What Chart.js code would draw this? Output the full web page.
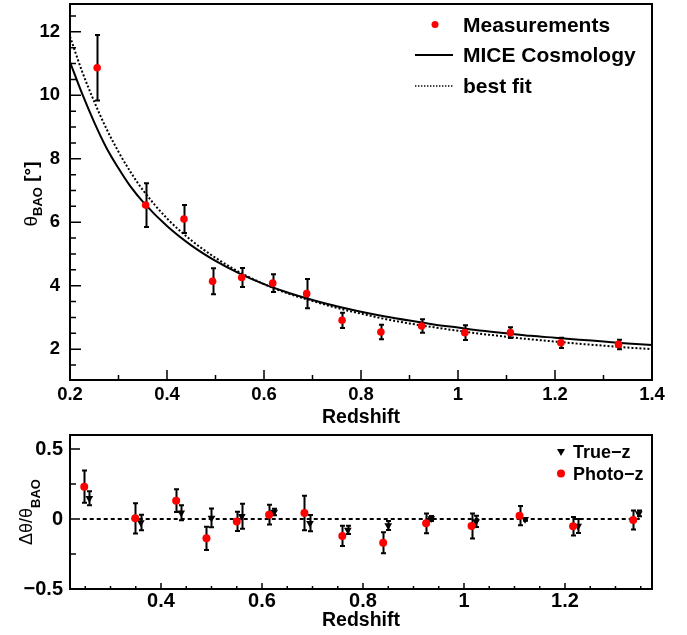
<!DOCTYPE html>
<html>
<head>
<meta charset="utf-8">
<script src="https://cdn.jsdelivr.net/npm/chart.js@4.4.0/dist/chart.umd.min.js"></script>
<style>
  html, body { margin: 0; padding: 0; background: #fff; }
  #wrap { position: relative; width: 687px; height: 635px; }
  #topChart { position: absolute; left: 0; top: 0; }
  #bottomChart { position: absolute; left: 0; top: 430px; }
</style>
</head>
<body>
<div id="wrap">
  <canvas id="topChart" width="687" height="430"></canvas>
  <canvas id="bottomChart" width="687" height="205"></canvas>
</div>
<script>
// measured BAO angle per redshift bin (top panel)
const measZ     = [0.256, 0.356, 0.435, 0.494, 0.554, 0.618, 0.688, 0.761, 0.841, 0.925, 1.014, 1.108, 1.212, 1.331];
const measTheta = [10.87, 6.54, 6.10, 4.14, 4.26, 4.08, 3.75, 2.91, 2.54, 2.73, 2.52, 2.52, 2.20, 2.15];
const measErr   = [1.03, 0.69, 0.44, 0.41, 0.30, 0.28, 0.46, 0.24, 0.23, 0.21, 0.23, 0.17, 0.16, 0.15];

// model curves
const curveZ    = [0.20, 0.225, 0.25, 0.275, 0.30, 0.325, 0.35, 0.40, 0.45, 0.50, 0.55, 0.60, 0.65, 0.70,
                   0.75, 0.80, 0.85, 0.90, 0.95, 1.00, 1.05, 1.10, 1.15, 1.20, 1.25, 1.30, 1.35, 1.40];
const miceTheta = [11.05, 10.05, 9.15, 8.35, 7.70, 7.12, 6.65, 5.88, 5.27, 4.78, 4.38, 4.05, 3.78, 3.55,
                   3.35, 3.18, 3.03, 2.90, 2.78, 2.68, 2.58, 2.50, 2.42, 2.36, 2.30, 2.24, 2.18, 2.13];
const fitTheta  = [11.85, 10.75, 9.80, 8.95, 8.22, 7.58, 7.02, 6.12, 5.43, 4.88, 4.42, 4.05, 3.75, 3.52,
                   3.30, 3.12, 2.95, 2.81, 2.69, 2.58, 2.48, 2.39, 2.31, 2.24, 2.17, 2.11, 2.05, 2.00];

// relative deviation (bottom panel)
const photoZ     = [0.248, 0.349, 0.430, 0.490, 0.550, 0.614, 0.684, 0.759, 0.840, 0.925, 1.015, 1.110, 1.216, 1.335];
const photoDelta = [0.231, 0.005, 0.131, -0.138, -0.017, 0.031, 0.043, -0.121, -0.169, -0.031, -0.050, 0.024, -0.052, -0.007];
const photoErr   = [0.115, 0.108, 0.081, 0.083, 0.069, 0.070, 0.123, 0.072, 0.075, 0.071, 0.090, 0.068, 0.066, 0.068];

const trueZ      = [0.258, 0.360, 0.440, 0.500, 0.560, 0.624, 0.695, 0.770, 0.850, 0.935, 1.024, 1.121, 1.226, 1.346];
const trueDelta  = [0.148, -0.025, 0.045, 0.008, 0.020, 0.050, -0.030, -0.078, -0.047, 0.003, -0.017, -0.002, -0.050, 0.040];
const trueErr    = [0.050, 0.055, 0.054, 0.067, 0.089, 0.024, 0.058, 0.030, 0.032, 0.018, 0.041, 0.010, 0.050, 0.020];

const zeroLineZ = [0.245, 1.352];
const zeroLineY = [0, 0];

const FONT = '"Liberation Sans", Arial, Helvetica, sans-serif';

function pts(xs, ys) {
    return xs.map((x, i) => ({ x: x, y: ys[i] }));
}

function fmtTick(v) {
    const s = String(parseFloat(Number(v).toFixed(2)));
    return s.replace('-', '\u2212');
}

// draws ROOT-like frame, inner ticks, error bars, axis titles and legend
function makeRootPlugin(cfg) {
    return {
        id: 'rootFrame',
        beforeDatasetsDraw(chart) {
            const ctx = chart.ctx;
            const xs = chart.scales.x, ys = chart.scales.y;
            ctx.save();
            ctx.strokeStyle = '#000';
            ctx.lineWidth = 2;
            cfg.errorBars.forEach(eb => {
                const ds = chart.data.datasets[eb.dataset];
                ds.data.forEach((p, j) => {
                    const e = eb.errors[j];
                    const px = Math.round(xs.getPixelForValue(p.x)) + 0.5;
                    const y1 = ys.getPixelForValue(p.y + e);
                    const y2 = ys.getPixelForValue(p.y - e);
                    ctx.beginPath();
                    ctx.moveTo(px, y1); ctx.lineTo(px, y2);
                    ctx.moveTo(px - eb.cap, y1); ctx.lineTo(px + eb.cap, y1);
                    ctx.moveTo(px - eb.cap, y2); ctx.lineTo(px + eb.cap, y2);
                    ctx.stroke();
                });
            });
            ctx.restore();
        },
        afterDraw(chart) {
            const ctx = chart.ctx;
            const a = chart.chartArea;
            const xs = chart.scales.x, ys = chart.scales.y;
            ctx.save();
            ctx.strokeStyle = '#000';
            ctx.lineWidth = 2;
            ctx.strokeRect(a.left, a.top, a.right - a.left, a.bottom - a.top);

            // ticks inside the frame
            ctx.lineWidth = 1.5;
            ctx.beginPath();
            for (let k = Math.ceil(xs.min / cfg.xMinor - 1e-6); k * cfg.xMinor <= xs.max + 1e-6; k++) {
                const v = k * cfg.xMinor;
                const major = Math.abs(v / cfg.xMajor - Math.round(v / cfg.xMajor)) < 1e-6;
                const px = xs.getPixelForValue(v);
                ctx.moveTo(px, a.bottom);
                ctx.lineTo(px, a.bottom - (major ? cfg.xMajorLen : cfg.xMinorLen));
            }
            for (let k = Math.ceil(ys.min / cfg.yMinor - 1e-6); k * cfg.yMinor <= ys.max + 1e-6; k++) {
                const v = k * cfg.yMinor;
                const major = Math.abs(v / cfg.yMajor - Math.round(v / cfg.yMajor)) < 1e-6;
                const py = ys.getPixelForValue(v);
                ctx.moveTo(a.left, py);
                ctx.lineTo(a.left + (major ? cfg.yMajorLen : cfg.yMinorLen), py);
            }
            ctx.stroke();

            // x title
            ctx.fillStyle = '#000';
            ctx.font = 'bold ' + cfg.xTitleSize + 'px ' + FONT;
            ctx.textAlign = 'center';
            ctx.textBaseline = 'alphabetic';
            ctx.fillText('Redshift', (a.left + a.right) / 2, cfg.xTitleBase);

            // y title with subscript
            ctx.save();
            ctx.translate(cfg.yTitle.base, cfg.yTitle.center);
            ctx.rotate(-Math.PI / 2);
            ctx.textAlign = 'left';
            let w = 0;
            cfg.yTitle.parts.forEach(p => { ctx.font = p.font; w += ctx.measureText(p.text).width; });
            let x = -w / 2;
            cfg.yTitle.parts.forEach(p => {
                ctx.font = p.font;
                ctx.fillText(p.text, x, p.dy);
                x += ctx.measureText(p.text).width;
            });
            ctx.restore();

            // legend
            const lg = cfg.legend;
            ctx.font = 'bold ' + lg.size + 'px ' + FONT;
            ctx.textAlign = 'left';
            ctx.textBaseline = 'middle';
            lg.items.forEach(it => {
                ctx.fillStyle = '#000';
                ctx.fillText(it.text, lg.textX, it.y);
                if (it.kind === 'circle') {
                    ctx.fillStyle = '#ff0000';
                    ctx.beginPath();
                    ctx.arc(lg.markX, it.y - 1.5, it.r, 0, Math.PI * 2);
                    ctx.fill();
                } else if (it.kind === 'triangle') {
                    ctx.fillStyle = '#000';
                    ctx.beginPath();
                    ctx.moveTo(lg.markX - it.r, it.y - 4);
                    ctx.lineTo(lg.markX + it.r, it.y - 4);
                    ctx.lineTo(lg.markX, it.y + 3);
                    ctx.closePath();
                    ctx.fill();
                } else {
                    ctx.strokeStyle = '#000';
                    ctx.lineWidth = it.kind === 'line' ? 2 : 1.4;
                    ctx.setLineDash(it.kind === 'line' ? [] : [1.4, 1.6]);
                    ctx.beginPath();
                    ctx.moveTo(lg.lineX0, it.y - 1);
                    ctx.lineTo(lg.lineX1, it.y - 1);
                    ctx.stroke();
                    ctx.setLineDash([]);
                }
            });
            ctx.restore();
        }
    };
}

function axisCommon(fontSize, pad) {
    return {
        type: 'linear',
        grid: { display: false, drawTicks: false },
        border: { display: false },
        ticks: {
            includeBounds: false,
            padding: pad,
            color: '#000',
            font: { family: FONT, size: fontSize, weight: 'bold' },
            callback: v => fmtTick(v)
        }
    };
}

function noEdgePadding(s) {
    s.paddingTop = 0;
    s.paddingBottom = 0;
    s.paddingLeft = 0;
    s.paddingRight = 0;
}

// ---------- top panel ----------
const topX = axisCommon(18.5, 4);
topX.min = 0.2; topX.max = 1.4; topX.ticks.stepSize = 0.2;
topX.afterFit = s => { s.height = 50; noEdgePadding(s); };
const topY = axisCommon(18.5, 10);
topY.min = 1.028; topY.max = 12.878; topY.ticks.stepSize = 2;
topY.afterFit = s => { s.width = 70; noEdgePadding(s); };

new Chart(document.getElementById('topChart'), {
    type: 'scatter',
    data: {
        datasets: [
            {
                label: 'Measurements',
                data: pts(measZ, measTheta),
                pointStyle: 'circle',
                pointRadius: 3.8,
                backgroundColor: '#ff0000',
                borderWidth: 0,
                order: 0
            },
            {
                label: 'MICE Cosmology',
                type: 'line',
                data: pts(curveZ, miceTheta),
                borderColor: '#000',
                borderWidth: 2,
                pointRadius: 0,
                fill: false,
                cubicInterpolationMode: 'monotone',
                order: 1
            },
            {
                label: 'best fit',
                type: 'line',
                data: pts(curveZ, fitTheta),
                borderColor: '#000',
                borderWidth: 2,
                borderDash: [2, 2],
                pointRadius: 0,
                fill: false,
                cubicInterpolationMode: 'monotone',
                order: 2
            }
        ]
    },
    options: {
        responsive: false,
        animation: false,
        layout: { padding: { left: 0, right: 35, top: 2, bottom: 0 } },
        scales: { x: topX, y: topY },
        plugins: { legend: { display: false }, tooltip: { enabled: false } }
    },
    plugins: [makeRootPlugin({
        errorBars: [{ dataset: 0, errors: measErr, cap: 2.5 }],
        xMajor: 0.2, xMinor: 0.1, xMajorLen: 10, xMinorLen: 5,
        yMajor: 2, yMinor: 0.5, yMajorLen: 11, yMinorLen: 6,
        xTitleSize: 19.5, xTitleBase: 423,
        yTitle: {
            base: 37, center: 194,
            parts: [
                { text: '\u03b8', font: '19px ' + FONT, dy: 0 },
                { text: 'BAO', font: 'bold 13px ' + FONT, dy: 5 },
                { text: ' [\u00b0]', font: 'bold 19px ' + FONT, dy: 0 }
            ]
        },
        legend: {
            size: 21, textX: 463, markX: 435, lineX0: 415, lineX1: 453,
            items: [
                { kind: 'circle', r: 3.5, y: 26, text: 'Measurements' },
                { kind: 'line', y: 56, text: 'MICE Cosmology' },
                { kind: 'dotted', y: 87, text: 'best fit' }
            ]
        }
    })]
});

// ---------- bottom panel ----------
const botX = axisCommon(20, 0);
botX.min = 0.2198; botX.max = 1.3723; botX.ticks.stepSize = 0.2;
botX.afterFit = s => { s.height = 46; noEdgePadding(s); };
const botY = axisCommon(20, 7);
botY.min = -0.5; botY.max = 0.6; botY.ticks.stepSize = 0.5;
botY.afterFit = s => { s.width = 70; noEdgePadding(s); };

new Chart(document.getElementById('bottomChart'), {
    type: 'scatter',
    data: {
        datasets: [
            {
                label: 'True-z',
                data: pts(trueZ, trueDelta),
                pointStyle: 'triangle',
                rotation: 180,
                pointRadius: 4.5,
                backgroundColor: '#000',
                borderWidth: 0,
                order: 1
            },
            {
                label: 'Photo-z',
                data: pts(photoZ, photoDelta),
                pointStyle: 'circle',
                pointRadius: 4,
                backgroundColor: '#ff0000',
                borderWidth: 0,
                order: 0
            },
            {
                label: 'zero',
                type: 'line',
                data: pts(zeroLineZ, zeroLineY),
                borderColor: '#000',
                borderWidth: 2,
                borderDash: [4, 3],
                pointRadius: 0,
                fill: false,
                order: 2
            }
        ]
    },
    options: {
        responsive: false,
        animation: false,
        layout: { padding: { left: 0, right: 35, top: 5, bottom: 0 } },
        scales: { x: botX, y: botY },
        plugins: { legend: { display: false }, tooltip: { enabled: false } }
    },
    plugins: [makeRootPlugin({
        errorBars: [
            { dataset: 0, errors: trueErr, cap: 2.5 },
            { dataset: 1, errors: photoErr, cap: 2.5 }
        ],
        xMajor: 0.2, xMinor: 0.05, xMajorLen: 6, xMinorLen: 3,
        yMajor: 0.5, yMinor: 0.25, yMajorLen: 10, yMinorLen: 6,
        xTitleSize: 19.5, xTitleBase: 196,
        yTitle: {
            base: 32, center: 82,
            parts: [
                { text: '\u0394\u03b8/\u03b8', font: '18px ' + FONT, dy: 0 },
                { text: 'BAO', font: 'bold 13px ' + FONT, dy: 8 }
            ]
        },
        legend: {
            size: 18, textX: 573, markX: 561, lineX0: 0, lineX1: 0,
            items: [
                { kind: 'triangle', r: 4, y: 23, text: 'True\u2212z' },
                { kind: 'circle', r: 4, y: 45, text: 'Photo\u2212z' }
            ]
        }
    })]
});
</script>
</body>
</html>
